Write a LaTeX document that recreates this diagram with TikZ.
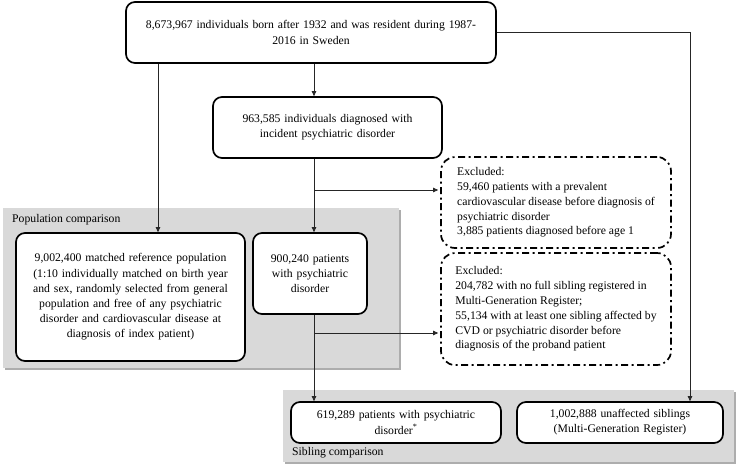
\documentclass[tikz,border=0pt]{standalone}
\usepackage{fontspec}
\setmainfont{Liberation Serif}
\usetikzlibrary{arrows.meta}
\tikzset{
  box/.style={draw, line width=1.7pt, rounded corners=9pt, fill=white, align=center, inner sep=0pt},
  exclbox/.style={draw, line width=1.7pt, rounded corners=14pt, dash pattern=on 7pt off 3.5pt on 2pt off 3.5pt, fill=white, align=left, inner sep=0pt, font=\fontsize{11.7}{14.8}\selectfont},
  arr/.style={draw=black!85, line width=0.7pt, -{Triangle[length=5pt,width=4.5pt]}},
  group/.style={fill=black!15},
  groupshadow/.style={fill=black!32},
  grouplabel/.style={anchor=west, inner sep=0pt},
}
\begin{document}
\begin{tikzpicture}[x=1pt, y=-1pt, font=\fontsize{11.7}{15.2}\selectfont]
  \useasboundingbox (0,0) rectangle (737,469);
  % grey areas
  \fill[groupshadow] (4.5,209.5) rectangle (400.5,369.5);
  \fill[group] (3,208) rectangle (399,368);
  \fill[groupshadow] (284.5,391.5) rectangle (735.5,463.5);
  \fill[group] (283,390) rectangle (734,462);
  \node[grouplabel] (poplabel) at (12,220) {Population comparison};
  \node[grouplabel] (siblabel) at (292,453) {Sibling comparison};
  % boxes
  \node[box, minimum width=370pt, minimum height=61pt, text width=360pt] (all) at (311,32.5) {8,673,967 individuals born after 1932 and was resident during 1987-\\2016 in Sweden\par\vspace*{12pt}};
  \node[box, minimum width=229pt, minimum height=61pt, text width=215pt] (inc) at (327.5,127.5) {963,585 individuals diagnosed with\\incident psychiatric disorder\par\vspace*{11pt}};
  \node[box, minimum width=229pt, minimum height=128pt, text width=222pt] (match) at (130.5,297) {9,002,400 matched reference population\\(1:10 individually matched on birth year\\and sex, randomly selected from general\\population and free of any psychiatric\\disorder and cardiovascular disease at\\diagnosis of index patient)\par\vspace*{11pt}};
  \node[box, minimum width=114pt, minimum height=81pt, text width=110pt] (pat) at (310,273.5) {900,240 patients\\with psychiatric\\disorder};
  \node[exclbox, minimum width=230pt, minimum height=91pt] (ex1) at (556,202.5) {Excluded:\\59,460 patients with a prevalent\\cardiovascular disease before diagnosis of\\psychiatric disorder\\3,885 patients diagnosed before age 1};
  \node[exclbox, minimum width=230pt, minimum height=112pt] (ex2) at (556,309) {Excluded:\\204,782 with no full sibling registered in\\Multi-Generation Register;\\55,134 with at least one sibling affected by\\CVD or psychiatric disorder before\\diagnosis of the proband patient};
  \node[box, minimum width=210pt, minimum height=41pt, text width=200pt] (sib1) at (396,422.5) {619,289 patients with psychiatric\\disorder\textsuperscript{*}};
  \node[box, minimum width=206pt, minimum height=41pt, text width=200pt] (sib2) at (620,422.5) {1,002,888 unaffected siblings\\(Multi-Generation Register)};
  % connectors
  \coordinate (mx) at (314,0);
  \coordinate (lx) at (158,0);
  \coordinate (rx) at (690,0);
  \coordinate (fork1) at (314,190);
  \coordinate (fork2) at (314,333);
  \draw[arr] (all.south -| mx) -- (inc.north -| mx);
  \draw[arr] (inc.south -| mx) -- (pat.north -| mx);
  \draw[arr] (pat.south -| mx) -- (sib1.north -| mx);
  \draw[arr, shorten >=2pt] (fork1) -- (fork1 -| ex1.west);
  \draw[arr, shorten >=2pt] (fork2) -- (fork2 -| ex2.west);
  \draw[arr] (all.south -| lx) -- (match.north -| lx);
  \draw[arr] (all.east) -| (sib2.north -| rx);
\end{tikzpicture}
\end{document}
